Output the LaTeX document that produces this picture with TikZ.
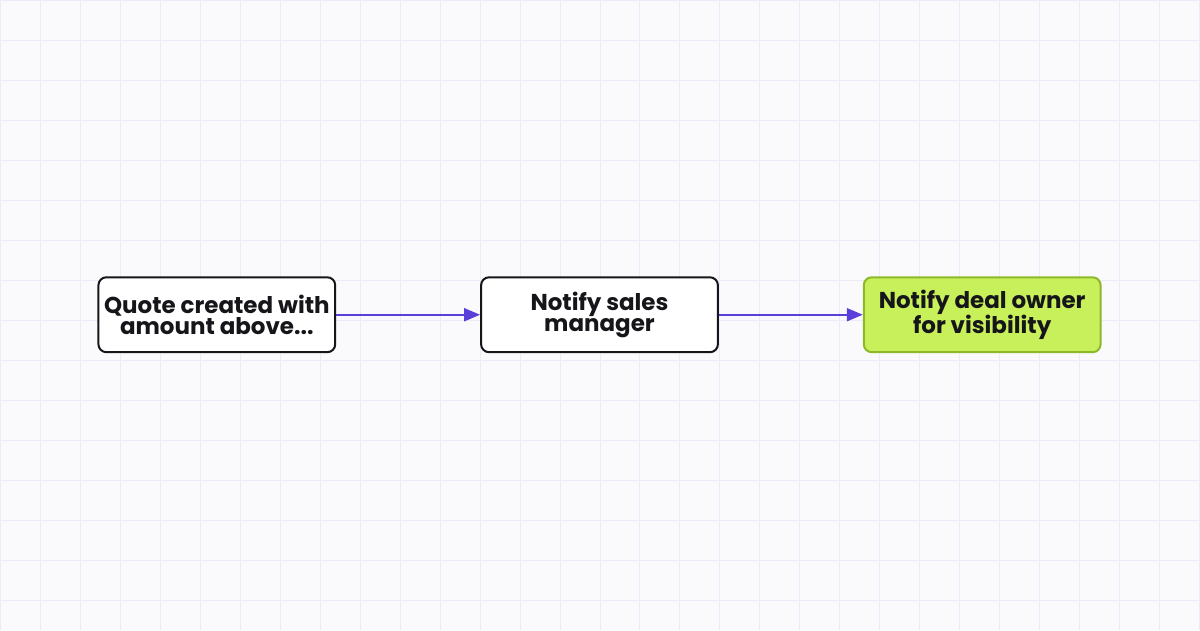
\documentclass[tikz,border=0pt]{standalone}
\usepackage{fontspec}
\setmainfont{Poppins}[UprightFont=* Bold]
\usetikzlibrary{arrows.meta}
\definecolor{bgpaper}{RGB}{250,250,253}
\definecolor{gridline}{RGB}{237,235,247}
\definecolor{boxline}{RGB}{21,21,26}
\definecolor{flowarrow}{RGB}{91,63,217}
\definecolor{limefill}{RGB}{200,240,90}
\definecolor{limeline}{RGB}{141,184,42}
\tikzset{
  stepbox/.style={draw=boxline, line width=2pt, rounded corners=8pt, fill=white,
    minimum width=237pt, minimum height=75pt, align=center, inner sep=0pt,
    font=\fontsize{23}{21.5}\selectfont, text=boxline},
  donebox/.style={stepbox, draw=limeline, fill=limefill},
  flow/.style={draw=flowarrow, line width=2pt, -{Triangle[length=16pt,width=13pt]}}
}
\begin{document}
\begin{tikzpicture}[x=1pt,y=1pt,yscale=-1,xscale=1]
%background and grid
\fill [bgpaper] (0,0) rectangle (1200,630);
\foreach \gx in {0,40,...,1200} \draw [gridline, line width=1pt] (\gx,0) -- (\gx,630);
\foreach \gy in {0,40,...,600} \draw [gridline, line width=1pt] (0,\gy) -- (1200,\gy);
\useasboundingbox (0,0) rectangle (1200,630);

%Steps
\node [stepbox] (quote) at (216.5,314.5) {Quote created with\\amount above...};
\node [stepbox] (notifymgr) at (599.5,314.5) {Notify sales\\manager};
\node [donebox] (notifyowner) at (982.5,314.5) {Notify deal owner\\for visibility};

%Arrows
\draw [flow] (quote) -- (notifymgr);
\draw [flow] (notifymgr) -- (notifyowner);

\end{tikzpicture}
\end{document}
